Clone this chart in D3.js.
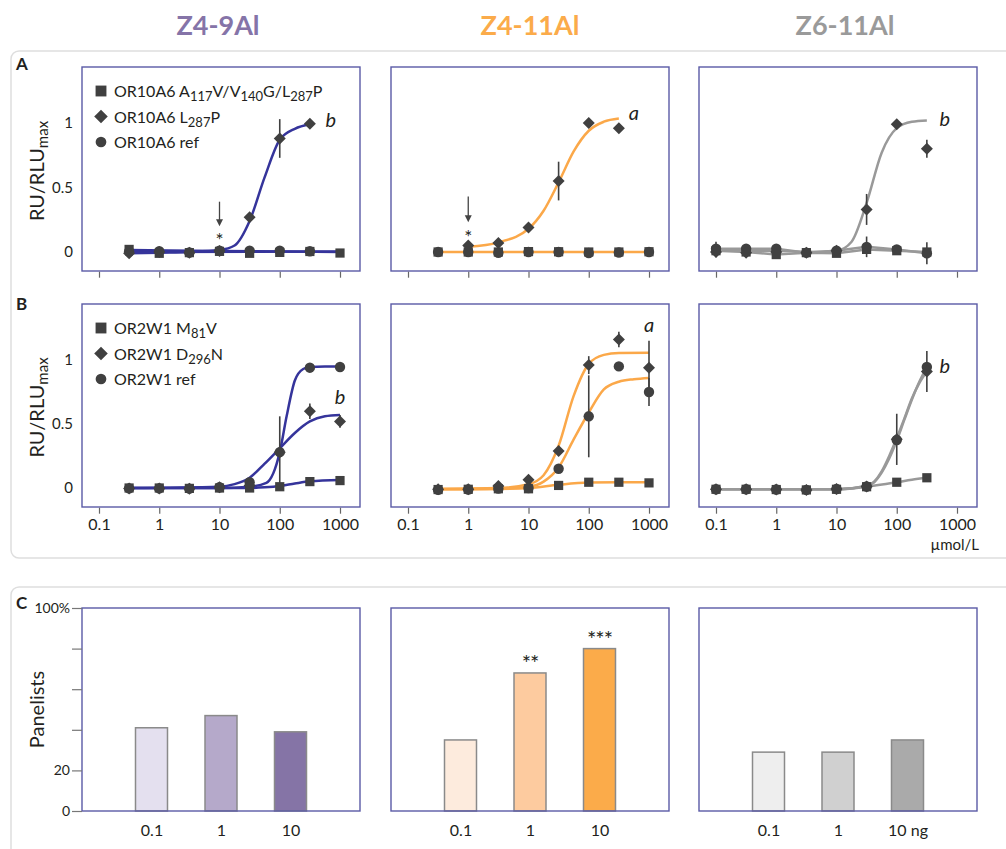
<!DOCTYPE html>
<html>
<head>
<meta charset="utf-8">
<script src="https://cdn.jsdelivr.net/npm/d3@7"></script>
<style>
  body { margin: 0; background: #fff; }
  svg text { font-family: Lato, "Open Sans", sans-serif; fill: #231f20; }
</style>
</head>
<body>
<svg id="chart" width="1006" height="849"></svg>
<script>
// ---- data ----
const titles = ["Z4-9Al", "Z4-11Al", "Z6-11Al"];
const titleColors = ["#8574a8", "#fbab4a", "#9a9a9a"];
const lineColors = ["#35349b", "#fba849", "#999999"];

const xTicks = [0.1, 1, 10, 100, 1000];
const concAB = [0.316, 1, 3.16, 10, 31.6, 100, 316, 1000];
const concZ6 = [0.1, 0.316, 1, 3.16, 10, 31.6, 100, 316];

// row A, OR10A6
const a1Square = [0.02, -0.01, -0.005, 0.005, -0.01, -0.003, 0.004, -0.008];
const a1Diamond = [-0.01, 0.0, -0.005, 0.008, 0.27, 0.88, 0.995, null];
const a1DiamondErr = [0, 0, 0, 0, 0, 0.15, 0, 0];
const a1Circle = [0.004, 0.006, -0.004, 0.01, 0.01, 0.01, 0.006, null];
const a1FitDiamondConc = [0.316, 1, 3.16, 10, 17.8, 31.6, 56.2, 100, 178, 316];
const a1FitDiamond = [-0.01, -0.005, 0.0, 0.015, 0.05, 0.24, 0.58, 0.87, 0.955, 0.99];
const a1FitSquareConc = [0.316, 10, 1000];
const a1FitSquare = [0.015, 0.008, 0.0];
const a1FitCircleConc = [0.316, 1000];
const a1FitCircle = [0.0, 0.004];

const a2Square = [0.0, 0.0, 0.0, 0.003, 0.002, 0.0, 0.0, 0.002];
const a2Circle = [0.0, 0.0, -0.006, 0.0, 0.0, -0.008, -0.004, 0.0];
const a2Diamond = [null, 0.05, 0.07, 0.19, 0.55, 1.0, 0.96, null];
const a2DiamondErr = [0, 0, 0, 0, 0.15, 0, 0, 0];
const a2FitDiamondConc = [1, 3.16, 10, 17.8, 31.6, 56.2, 100, 178, 316];
const a2FitDiamond = [0.04, 0.075, 0.18, 0.32, 0.54, 0.78, 0.94, 1.01, 1.035];
const a2FitFlatConc = [0.316, 1000];
const a2FitFlat = [0.0, 0.0];

const a3Square = [0.01, 0.0, -0.02, -0.005, -0.01, 0.02, 0.01, 0.0];
const a3Circle = [0.025, 0.025, 0.025, -0.005, 0.01, 0.04, 0.02, -0.01];
const a3CircleErr = [0.055, 0.02, 0.035, 0, 0.015, 0.08, 0.02, 0.085];
const a3Diamond = [0.0, -0.005, 0.0, -0.005, 0.01, 0.33, 0.99, 0.8];
const a3DiamondErr = [0.04, 0.02, 0, 0, 0.015, 0.12, 0, 0.07];
const a3FitDiamondConc = [0.1, 1, 3.16, 10, 17.8, 31.6, 56.2, 100, 178, 316];
const a3FitDiamond = [0.01, 0.01, 0.0, 0.01, 0.08, 0.38, 0.77, 0.96, 1.01, 1.02];

// row B, OR2W1
const b1Square = [0.0, 0.0, -0.003, 0.0, 0.0, 0.01, 0.05, 0.058];
const b1Diamond = [-0.003, -0.003, -0.005, 0.005, 0.02, 0.28, 0.6, 0.52];
const b1DiamondErr = [0, 0, 0, 0, 0, 0.28, 0.06, 0.05];
const b1Circle = [-0.003, -0.003, -0.005, 0.006, 0.045, 0.28, 0.94, 0.945];
const b1FitCircleConc = [0.316, 10, 31.6, 60, 100, 130, 178, 245, 316, 562, 1000];
const b1FitCircle = [0.0, 0.0, 0.01, 0.04, 0.28, 0.56, 0.84, 0.93, 0.945, 0.95, 0.95];
const b1FitDiamondConc = [0.316, 10, 17.8, 31.6, 56.2, 100, 178, 316, 562, 1000];
const b1FitDiamond = [0.0, 0.01, 0.03, 0.08, 0.19, 0.31, 0.43, 0.52, 0.56, 0.57];
const b1FitSquareConc = [0.316, 31.6, 56.2, 100, 178, 316, 1000];
const b1FitSquare = [0.0, 0.0, 0.005, 0.015, 0.035, 0.052, 0.062];

const b2Square = [-0.012, -0.01, -0.006, -0.006, 0.02, 0.045, 0.045, 0.04];
const b2Diamond = [-0.01, -0.01, 0.015, 0.065, 0.29, 0.96, 1.16, 0.94];
const b2DiamondErr = [0, 0, 0, 0, 0, 0.07, 0.06, 0.21];
const b2Circle = [-0.015, -0.012, -0.005, 0.0, 0.15, 0.56, 0.95, 0.75];
const b2CircleErr = [0, 0, 0, 0, 0, 0.32, 0, 0.11];
const b2FitDiamondConc = [0.316, 3.16, 10, 17.8, 31.6, 56.2, 100, 178, 316, 1000];
const b2FitDiamond = [-0.005, 0.0, 0.03, 0.1, 0.33, 0.72, 0.97, 1.04, 1.055, 1.057];
const b2FitCircleConc = [0.316, 3.16, 10, 17.8, 31.6, 56.2, 100, 178, 316, 562, 1000];
const b2FitCircle = [-0.01, -0.005, 0.01, 0.05, 0.16, 0.38, 0.59, 0.77, 0.83, 0.85, 0.86];
const b2FitSquareConc = [0.316, 3.16, 10, 31.6, 100, 316, 1000];
const b2FitSquare = [-0.01, -0.007, 0.0, 0.025, 0.042, 0.045, 0.045];

const b3Square = [-0.01, -0.01, -0.012, -0.015, -0.01, 0.01, 0.045, 0.08];
const b3Diamond = [-0.01, -0.01, -0.012, -0.015, -0.008, 0.012, 0.38, 0.91];
const b3DiamondErr = [0, 0, 0, 0, 0, 0, 0.2, 0.16];
const b3Circle = [-0.01, -0.01, -0.012, -0.015, -0.008, 0.012, 0.375, 0.945];
const b3FitConc = [0.1, 1, 10, 31.6, 42.2, 56.2, 75, 100, 133, 178, 237, 316];
const b3FitDiamond = [-0.01, -0.01, -0.01, 0.015, 0.05, 0.13, 0.25, 0.39, 0.54, 0.7, 0.82, 0.91];
const b3FitCircle = [-0.01, -0.01, -0.01, 0.015, 0.045, 0.12, 0.23, 0.37, 0.53, 0.69, 0.83, 0.945];
const b3FitSquareConc = [0.1, 10, 31.6, 100, 178, 316];
const b3FitSquare = [-0.01, -0.01, 0.01, 0.045, 0.065, 0.08];

// row C, panelists (%)
const doseCats = ["0.1", "1", "10"];
const doseLabels = [["0.1", "1", "10"], ["0.1", "1", "10"], ["0.1", "1", "10 ng"]];
const c1Bars = [41, 47, 39];
const c2Bars = [35, 68, 80];
const c3Bars = [29, 29, 35];
const c2Stars = ["", "**", "***"];
const barFills = [
  ["#e4e0ef", "#b5a9ca", "#8574a6"],
  ["#fdebdd", "#fdcb9f", "#fbab4a"],
  ["#eeeeee", "#d0d0d0", "#aaaaaa"]
];

const legendA = [["OR10A6 A", {sub: "117"}, "V/V", {sub: "140"}, "G/L", {sub: "287"}, "P"],
                 ["OR10A6 L", {sub: "287"}, "P"], ["OR10A6 ref"]];
const legendB = [["OR2W1 M", {sub: "81"}, "V"], ["OR2W1 D", {sub: "296"}, "N"], ["OR2W1 ref"]];
const legendShapes = ["square", "diamond", "circle"];

// ---- layout ----
const W = 278;
const colLeft = [82, 391, 699];
const titleX = [218, 530, 845];
const rowAB = [{top: 67, h: 204, zero: 252, one: 123}, {top: 304, h: 203, zero: 488, one: 360}];
const rowC = {top: 608, bottom: 811};
const frameColor = "#5a5aa6";
const markColor = "#404040";

const svg = d3.select("#chart");

svg.append("rect").attr("x", 11).attr("y", 51).attr("width", 1100).attr("height", 507)
  .attr("rx", 8).attr("fill", "none").attr("stroke", "#dedede").attr("stroke-width", 1.5);
svg.append("rect").attr("x", 11).attr("y", 587).attr("width", 1100).attr("height", 400)
  .attr("rx", 8).attr("fill", "none").attr("stroke", "#dedede").attr("stroke-width", 1.5);

titles.forEach((t, i) => {
  svg.append("text").attr("x", titleX[i]).attr("y", 35).attr("text-anchor", "middle")
    .attr("font-size", 27).attr("font-weight", 700).style("fill", titleColors[i]).text(t);
});

[["A", 70], ["B", 310], ["C", 609]].forEach(([l, y]) => {
  svg.append("text").attr("x", 16).attr("y", y).attr("font-size", 17).attr("font-weight", 700).text(l);
});

function rich(textSel, parts, subSize) {
  let down = false;
  parts.forEach(p => {
    const isSub = typeof p !== "string";
    const t = textSel.append("tspan").text(isSub ? p.sub : p);
    if (isSub) {
      t.attr("font-size", subSize);
      if (!down) { t.attr("dy", 4); down = true; }
    } else if (down) { t.attr("dy", -4); down = false; }
  });
}

const symbols = {
  square: d3.symbol(d3.symbolSquare, 85)(),
  diamond: d3.symbol(d3.symbolSquare, 72)(),
  circle: d3.symbol(d3.symbolCircle, 85)()
};
const legendSymbols = {
  square: d3.symbol(d3.symbolSquare, 118)(),
  diamond: d3.symbol(d3.symbolSquare, 92)(),
  circle: d3.symbol(d3.symbolCircle, 90)()
};

const panelsAB = [
  {row: 0, col: 0, conc: concAB,
   fits: [{c: a1FitSquareConc, v: a1FitSquare}, {c: a1FitCircleConc, v: a1FitCircle},
          {c: a1FitDiamondConc, v: a1FitDiamond}],
   series: [{shape: "circle", v: a1Circle}, {shape: "square", v: a1Square},
            {shape: "diamond", v: a1Diamond, e: a1DiamondErr}],
   note: {t: "b", c: 700, v: 0.97}, arrow: {c: 10, from: 0.39, to: 0.2, star: 0.035}},
  {row: 0, col: 1, conc: concAB,
   fits: [{c: a2FitFlatConc, v: a2FitFlat}, {c: a2FitDiamondConc, v: a2FitDiamond}],
   series: [{shape: "circle", v: a2Circle}, {shape: "square", v: a2Square},
            {shape: "diamond", v: a2Diamond, e: a2DiamondErr}],
   note: {t: "a", c: 560, v: 1.02}, arrow: {c: 1, from: 0.43, to: 0.23, star: 0.065}},
  {row: 0, col: 2, conc: concZ6,
   fits: [{c: concZ6, v: a3Square, linear: true}, {c: concZ6, v: a3Circle, linear: true},
          {c: a3FitDiamondConc, v: a3FitDiamond}],
   series: [{shape: "circle", v: a3Circle, e: a3CircleErr}, {shape: "square", v: a3Square},
            {shape: "diamond", v: a3Diamond, e: a3DiamondErr}],
   note: {t: "b", c: 630, v: 0.98}},
  {row: 1, col: 0, conc: concAB,
   fits: [{c: b1FitSquareConc, v: b1FitSquare}, {c: b1FitDiamondConc, v: b1FitDiamond},
          {c: b1FitCircleConc, v: b1FitCircle}],
   series: [{shape: "circle", v: b1Circle}, {shape: "square", v: b1Square},
            {shape: "diamond", v: b1Diamond, e: b1DiamondErr}],
   note: {t: "b", c: 1000, v: 0.66}},
  {row: 1, col: 1, conc: concAB,
   fits: [{c: b2FitSquareConc, v: b2FitSquare}, {c: b2FitCircleConc, v: b2FitCircle},
          {c: b2FitDiamondConc, v: b2FitDiamond}],
   series: [{shape: "circle", v: b2Circle, e: b2CircleErr}, {shape: "square", v: b2Square},
            {shape: "diamond", v: b2Diamond, e: b2DiamondErr}],
   note: {t: "a", c: 1000, v: 1.22}},
  {row: 1, col: 2, conc: concZ6,
   fits: [{c: b3FitSquareConc, v: b3FitSquare}, {c: b3FitConc, v: b3FitCircle},
          {c: b3FitConc, v: b3FitDiamond}],
   series: [{shape: "circle", v: b3Circle}, {shape: "square", v: b3Square},
            {shape: "diamond", v: b3Diamond, e: b3DiamondErr}],
   note: {t: "b", c: 630, v: 0.9}}
];

panelsAB.forEach(p => {
  const left = colLeft[p.col], R = rowAB[p.row];
  const x = d3.scaleLog().domain([0.1, 1000]).range([left + 17, left + 258]);
  const y = d3.scaleLinear().domain([0, 1]).range([R.zero, R.one]);
  const g = svg.append("g");

  g.append("rect").attr("x", left).attr("y", R.top).attr("width", W).attr("height", R.h)
    .attr("fill", "none").attr("stroke", frameColor).attr("stroke-width", 1.4);

  g.append("g").attr("transform", `translate(0,${R.top + R.h + 0.7})`)
    .call(d3.axisBottom(x).tickValues(xTicks).tickSize(6).tickPadding(5)
      .tickFormat(p.row === 1 ? d3.format("~g") : () => ""))
    .call(a => a.select(".domain").remove())
    .call(a => a.selectAll("line").attr("stroke", "#666").attr("stroke-width", 1.2))
    .call(a => a.selectAll("text").attr("font-size", 16));

  if (p.col === 0) {
    g.append("g").attr("transform", `translate(${left},0)`)
      .call(d3.axisLeft(y).tickValues([0, 0.5, 1]).tickSize(0).tickPadding(9).tickFormat(d3.format("~g")))
      .call(a => a.select(".domain").remove())
      .call(a => a.selectAll("text").attr("font-size", 15));

    const yl = g.append("text")
      .attr("transform", `translate(44,${(R.top + R.top + R.h) / 2 + 2}) rotate(-90)`)
      .attr("text-anchor", "middle").attr("font-size", 20);
    rich(yl, ["RU/RLU", {sub: "max"}], 15);

    const leg = p.row === 0 ? legendA : legendB;
    leg.forEach((parts, i) => {
      const ly = R.top + [24, 49.5, 75][i];
      g.append("path").attr("d", legendSymbols[legendShapes[i]])
        .attr("transform", `translate(${left + 19},${ly})${legendShapes[i] === "diamond" ? " rotate(45)" : ""}`)
        .attr("fill", markColor);
      const t = g.append("text").attr("x", left + 32).attr("y", ly + 6).attr("font-size", 16);
      rich(t, parts, 13);
    });
  }

  const line = d3.line().x(d => x(d[0])).y(d => y(d[1]));
  p.fits.forEach(f => {
    g.append("path")
      .datum(f.c.map((c, i) => [c, f.v[i]]))
      .attr("d", line.curve(f.linear ? d3.curveLinear : d3.curveMonotoneX))
      .attr("fill", "none").attr("stroke", lineColors[p.col])
      .attr("stroke-width", 2.5).attr("stroke-linejoin", "round");
  });

  p.series.forEach(s => {
    const pts = p.conc.map((c, i) => ({c, v: s.v[i], e: s.e ? s.e[i] : 0})).filter(d => d.v != null);
    g.selectAll(null).data(pts.filter(d => d.e > 0)).join("line")
      .attr("x1", d => x(d.c)).attr("x2", d => x(d.c))
      .attr("y1", d => y(d.v - d.e)).attr("y2", d => y(d.v + d.e))
      .attr("stroke", markColor).attr("stroke-width", 1.6);
    g.selectAll(null).data(pts).join("path")
      .attr("d", symbols[s.shape])
      .attr("transform", d => `translate(${x(d.c)},${y(d.v)})${s.shape === "diamond" ? " rotate(45)" : ""}`)
      .attr("fill", markColor);
  });

  if (p.note) {
    g.append("text").attr("x", x(p.note.c)).attr("y", y(p.note.v)).attr("text-anchor", "middle")
      .attr("font-size", 20).attr("font-style", "italic").text(p.note.t);
  }
  if (p.arrow) {
    const ax = x(p.arrow.c), y0 = y(p.arrow.from), y1 = y(p.arrow.to);
    g.append("line").attr("x1", ax).attr("x2", ax).attr("y1", y0).attr("y2", y1 - 5)
      .attr("stroke", "#444").attr("stroke-width", 1.3);
    g.append("path").attr("d", `M${ax - 3.5},${y1 - 7}L${ax + 3.5},${y1 - 7}L${ax},${y1}Z`).attr("fill", "#444");
    g.append("text").attr("x", ax).attr("y", y(p.arrow.star)).attr("text-anchor", "middle")
      .attr("font-size", 19).text("*");
  }
  if (p.row === 1 && p.col === 2) {
    g.append("text").attr("x", left + W + 2).attr("y", R.top + R.h + 43).attr("text-anchor", "end")
      .attr("font-size", 15).text("µmol/L");
  }
});

// ---- row C bars ----
const yC = d3.scaleLinear().domain([0, 100]).range([rowC.bottom, rowC.top]);
[c1Bars, c2Bars, c3Bars].forEach((bars, col) => {
  const left = colLeft[col];
  const x = d3.scalePoint().domain(doseCats).range([left, left + W]).padding(1);
  const g = svg.append("g");

  g.selectAll(null).data(bars).join("rect")
    .attr("x", (d, i) => x(doseCats[i]) - 16).attr("width", 32)
    .attr("y", d => yC(d)).attr("height", d => yC(0) - yC(d))
    .attr("fill", (d, i) => barFills[col][i]).attr("stroke", "#8a8a8a").attr("stroke-width", 1.5);

  g.append("rect").attr("x", left).attr("y", rowC.top).attr("width", W).attr("height", rowC.bottom - rowC.top)
    .attr("fill", "none").attr("stroke", frameColor).attr("stroke-width", 1.4);

  g.append("g").attr("transform", `translate(0,${rowC.bottom})`)
    .call(d3.axisBottom(x).tickSize(0).tickPadding(14).tickFormat((d, i) => doseLabels[col][i]))
    .call(a => a.select(".domain").remove())
    .call(a => a.selectAll("text").attr("font-size", 16));

  if (col === 1) {
    g.selectAll(null).data(bars).join("text")
      .attr("x", (d, i) => x(doseCats[i])).attr("y", d => yC(d) - 2)
      .attr("text-anchor", "middle").attr("font-size", 22).attr("letter-spacing", -1)
      .text((d, i) => c2Stars[i]);
  }

  if (col === 0) {
    g.append("g").attr("transform", `translate(${left},0)`)
      .call(d3.axisLeft(yC).tickValues([0, 20, 40, 60, 80, 100]).tickSize(10).tickPadding(2)
        .tickFormat(d => d === 100 ? "100%" : (d <= 20 ? d : "")))
      .call(a => a.select(".domain").remove())
      .call(a => a.selectAll("line").attr("stroke", "#777").attr("stroke-width", 1.2))
      .call(a => a.selectAll("text").attr("font-size", 14));
    g.append("text").attr("transform", `translate(44,${(rowC.top + rowC.bottom) / 2}) rotate(-90)`)
      .attr("text-anchor", "middle").attr("font-size", 20).text("Panelists");
  }
});
</script>
</body>
</html>
